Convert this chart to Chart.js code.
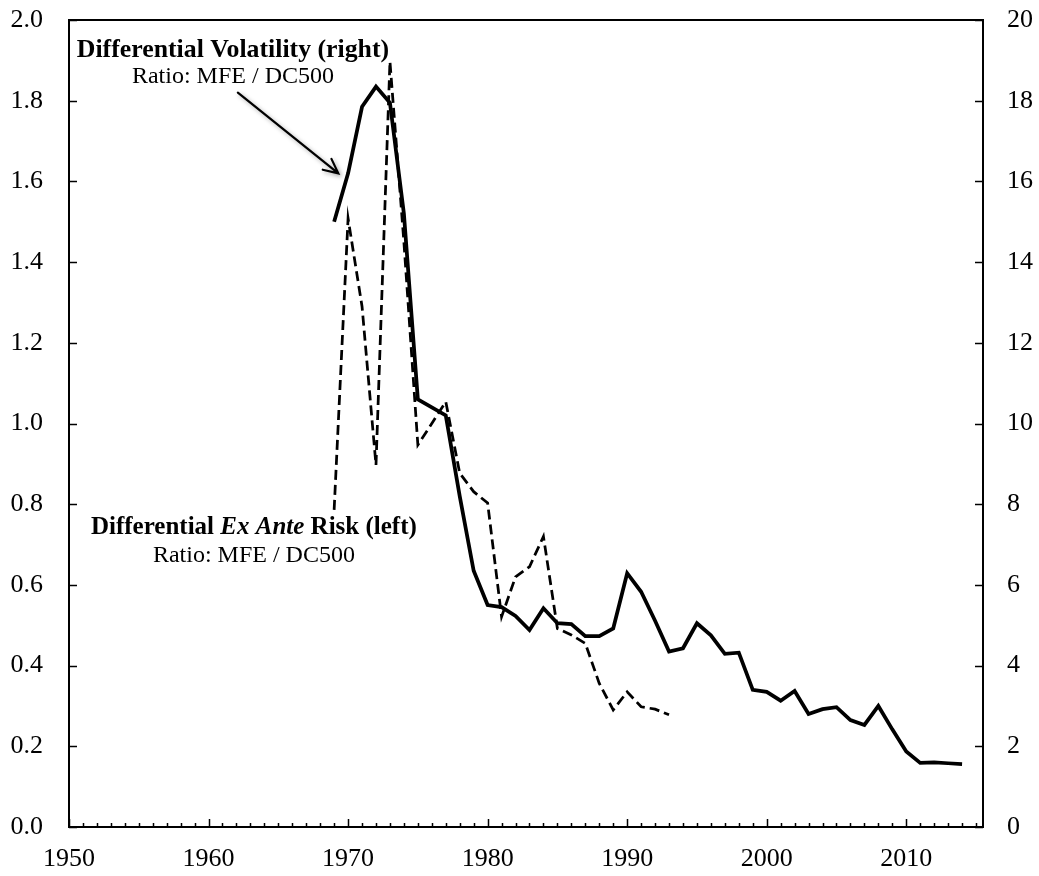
<!DOCTYPE html>
<html>
<head>
<meta charset="utf-8">
<script src="https://cdn.jsdelivr.net/npm/chart.js@4.4.1/dist/chart.umd.min.js"></script>
<style>
  html, body { margin: 0; padding: 0; background: #fff; }
  #wrap { width: 1039px; height: 876px; }
</style>
</head>
<body>
<div id="wrap"><canvas id="c" width="1039" height="876"></canvas></div>
<script>
// ---- Data ----
const volYears = [1969,1970,1971,1972,1973,1974,1975,1976,1977,1978,1979,1980,1981,1982,1983,1984,1985,1986,1987,1988,1989,1990,1991,1992,1993,1994,1995,1996,1997,1998,1999,2000,2001,2002,2003,2004,2005,2006,2007,2008,2009,2010,2011,2012,2013,2014];
const volRatio = [15.0,16.2,17.85,18.35,17.95,15.2,10.6,10.4,10.2,8.2,6.35,5.5,5.45,5.23,4.88,5.42,5.05,5.03,4.73,4.73,4.92,6.29,5.83,5.11,4.35,4.43,5.05,4.75,4.29,4.32,3.40,3.35,3.13,3.37,2.80,2.92,2.97,2.65,2.53,3.0,2.42,1.87,1.59,1.60,1.58,1.56];

const riskYears = [1969,1970,1971,1972,1973,1974,1975,1976,1977,1978,1979,1980,1981,1982,1983,1984,1985,1986,1987,1988,1989,1990,1991,1992,1993];
const riskRatio = [0.786,1.508,1.29,0.897,1.897,1.45,0.947,1.0,1.054,0.877,0.831,0.803,0.521,0.62,0.645,0.72,0.492,0.476,0.455,0.356,0.29,0.335,0.298,0.292,0.278];

const xMin = 1950, xMax = 2015.5, xStep = 10;
const leftMin = 0, leftMax = 2.0, leftStep = 0.2;
const rightMin = 0, rightMax = 20, rightStep = 2;

const volLabel = 'Differential Volatility (right)';
const riskLabelParts = [['Differential ', 'bold'], ['Ex Ante', 'italic bold'], [' Risk (left)', 'bold']];
const subLabel = 'Ratio: MFE / DC500';

const SERIF = '"Liberation Serif", "Times New Roman", serif';

// ---- Plugins: framed plot box with inward tick marks, annotations ----
const frameTicks = {
  id: 'frameTicks',
  afterDraw(chart) {
    const { ctx, chartArea: a, scales } = chart;
    ctx.save();
    ctx.strokeStyle = '#000';
    ctx.lineWidth = 1.5;
    ctx.beginPath();
    for (let yr = Math.ceil(scales.x.min); yr <= scales.x.max; yr++) {
      const px = Math.round(scales.x.getPixelForValue(yr)) + 0.5;
      const len = (yr % 10 === 0) ? 8 : 4;
      ctx.moveTo(px, a.bottom); ctx.lineTo(px, a.bottom - len);
    }
    scales.y.ticks.forEach(t => {
      const py = Math.round(scales.y.getPixelForValue(t.value)) + 0.5;
      ctx.moveTo(a.left, py); ctx.lineTo(a.left + 8, py);
    });
    scales.y1.ticks.forEach(t => {
      const py = Math.round(scales.y1.getPixelForValue(t.value)) + 0.5;
      ctx.moveTo(a.right, py); ctx.lineTo(a.right - 8, py);
    });
    ctx.stroke();
    ctx.lineWidth = 2;
    ctx.strokeRect(a.left, a.top, a.right - a.left, a.bottom - a.top);
    ctx.restore();
  }
};

const annotations = {
  id: 'annotations',
  afterDatasetsDraw(chart) {
    const { ctx, scales } = chart;
    const X = v => scales.x.getPixelForValue(v);
    ctx.save();
    ctx.fillStyle = '#000';
    ctx.textBaseline = 'middle';
    ctx.textAlign = 'center';

    // Upper annotation (right axis)
    const cx1 = X(1961.75);
    ctx.font = 'bold 25.8px ' + SERIF;
    ctx.fillText(volLabel, cx1, scales.y1.getPixelForValue(19.25));
    ctx.font = '24px ' + SERIF;
    ctx.fillText(subLabel, cx1, scales.y1.getPixelForValue(18.6));

    // Lower annotation (left axis)
    const cx2 = X(1963.25);
    const yb = scales.y.getPixelForValue(0.741);
    let total = 0;
    riskLabelParts.forEach(([t, f]) => { ctx.font = f + ' 25px ' + SERIF; total += ctx.measureText(t).width; });
    let xx = cx2 - total / 2;
    ctx.textAlign = 'left';
    riskLabelParts.forEach(([t, f]) => {
      ctx.font = f + ' 25px ' + SERIF;
      ctx.fillText(t, xx, yb);
      xx += ctx.measureText(t).width;
    });
    ctx.textAlign = 'center';
    ctx.font = '24px ' + SERIF;
    ctx.fillText(subLabel, cx2, scales.y.getPixelForValue(0.672));

    // Arrow pointing to the volatility line
    const x0 = X(1962.1), y0 = scales.y1.getPixelForValue(18.2);
    const x1 = X(1969.3), y1 = scales.y1.getPixelForValue(16.2);
    const ang = Math.atan2(y1 - y0, x1 - x0);
    const h = 16;
    ctx.shadowColor = 'rgba(0,0,0,0.35)';
    ctx.shadowBlur = 4;
    ctx.shadowOffsetX = 2;
    ctx.shadowOffsetY = 2;
    ctx.strokeStyle = '#000';
    ctx.lineWidth = 2.2;
    ctx.lineCap = 'round';
    ctx.beginPath();
    ctx.moveTo(x0, y0); ctx.lineTo(x1, y1);
    ctx.moveTo(x1 - h * Math.cos(ang - 0.45), y1 - h * Math.sin(ang - 0.45));
    ctx.lineTo(x1, y1);
    ctx.lineTo(x1 - h * Math.cos(ang + 0.45), y1 - h * Math.sin(ang + 0.45));
    ctx.stroke();
    ctx.restore();
  }
};

const toPts = (xs, ys) => xs.map((x, i) => ({ x, y: ys[i] }));
const noPad = s => { s.paddingTop = 0; s.paddingBottom = 0; s.paddingLeft = 0; s.paddingRight = 0; };

new Chart(document.getElementById('c'), {
  type: 'line',
  data: {
    datasets: [
      {
        label: 'Differential Volatility (right)',
        data: toPts(volYears, volRatio),
        yAxisID: 'y1',
        borderColor: '#000',
        borderWidth: 3.75,
        pointRadius: 0,
        tension: 0,
        fill: false
      },
      {
        label: 'Differential Ex Ante Risk (left)',
        data: toPts(riskYears, riskRatio),
        yAxisID: 'y',
        borderColor: '#000',
        borderWidth: 2.75,
        borderDash: [10, 5],
        pointRadius: 0,
        tension: 0,
        fill: false
      }
    ]
  },
  options: {
    responsive: false,
    animation: false,
    devicePixelRatio: 1,
    layout: { padding: { top: 20, left: 0, right: 0, bottom: 0 } },
    plugins: { legend: { display: false }, tooltip: { enabled: false } },
    scales: {
      x: {
        type: 'linear',
        min: xMin, max: xMax,
        grid: { display: false, drawTicks: false },
        border: { display: false },
        ticks: {
          stepSize: xStep, includeBounds: false, autoSkip: false, maxRotation: 0, padding: 17,
          color: '#000', font: { family: SERIF, size: 26 },
          callback: v => String(v)
        },
        afterBuildTicks: s => { s.ticks = s.ticks.filter(t => t.value % xStep === 0); },
        afterFit: s => { s.height = 49; noPad(s); }
      },
      y: {
        position: 'left',
        min: leftMin, max: leftMax,
        grid: { display: false, drawTicks: false },
        border: { display: false },
        ticks: {
          stepSize: leftStep, autoSkip: false, padding: 26,
          color: '#000', font: { family: SERIF, size: 26 },
          callback: v => Number(v).toFixed(1)
        },
        afterFit: s => { s.width = 69; noPad(s); }
      },
      y1: {
        position: 'right',
        min: rightMin, max: rightMax,
        grid: { display: false, drawTicks: false },
        border: { display: false },
        ticks: {
          stepSize: rightStep, autoSkip: false, padding: 24,
          color: '#000', font: { family: SERIF, size: 26 },
          callback: v => String(v)
        },
        afterFit: s => { s.width = 56; noPad(s); }
      }
    }
  },
  plugins: [frameTicks, annotations]
});
</script>
</body>
</html>
